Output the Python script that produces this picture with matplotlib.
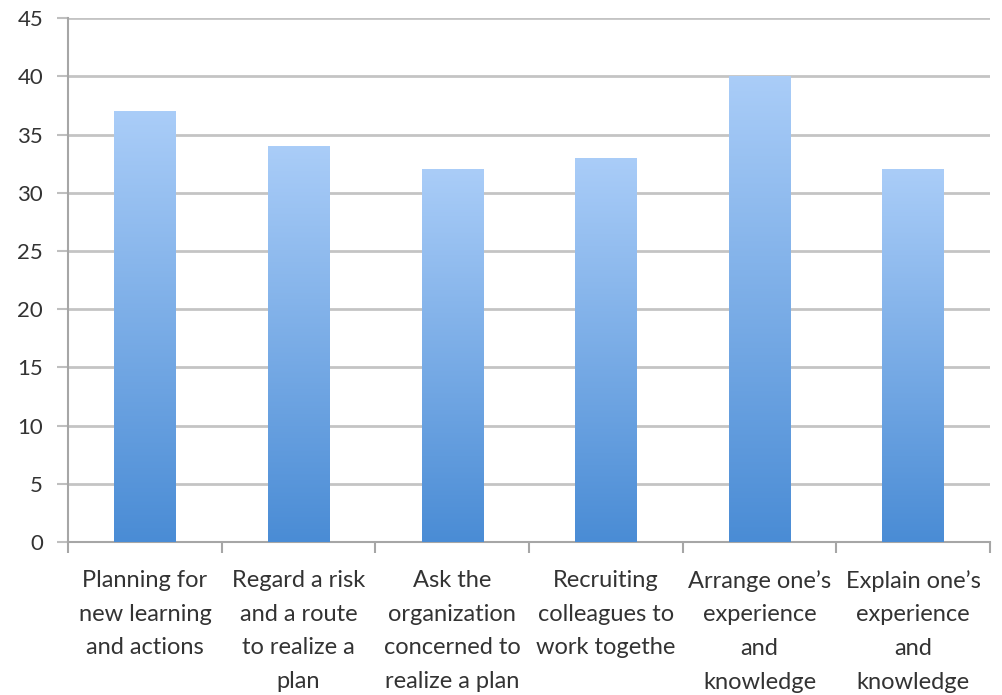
import numpy as np
import matplotlib.pyplot as plt
from matplotlib.colors import LinearSegmentedColormap

plt.rcParams['font.family'] = ['Lato', 'DejaVu Sans']

labels = [
    "Planning for\nnew learning\nand actions",
    "Regard a risk\nand a route\nto realize a\nplan",
    "Ask the\norganization\nconcerned to\nrealize a plan",
    "Recruiting\ncolleagues to\nwork togethe",
    "Arrange one\u2019s\nexperience\nand\nknowledge",
    "Explain one\u2019s\nexperience\nand\nknowledge",
]
values = [37, 34, 32, 33, 40, 32]

fig = plt.figure(figsize=(10.02, 6.95), dpi=100)
ax = fig.add_axes([0.068, 0.22, 0.92, 0.754])

grad = LinearSegmentedColormap.from_list('g', ['#4a8cd5', '#aacdf8'])
x = np.arange(len(values))
bars = ax.bar(x, values, width=0.4, color='none', zorder=3)
g = np.linspace(0, 1, 256).reshape(-1, 1)
for b in bars:
    x0, y0 = b.get_x(), b.get_y()
    im = ax.imshow(g, cmap=grad, origin='lower', aspect='auto',
                   extent=[x0, x0 + b.get_width(), y0, y0 + b.get_height()],
                   zorder=3)
    im.set_clip_path(b)

ax.set_xlim(-0.5, len(values) - 0.5)
ax.set_ylim(0, 45)
ax.set_yticks(range(0, 46, 5))
ax.set_xticks(np.arange(-0.5, len(values), 1.0))
ax.set_xticklabels([])
ax.set_xticks(x, minor=True)
ax.set_xticklabels(labels, minor=True, fontsize=17, color='#333333',
                   linespacing=1.75, va='top')
ax.tick_params(axis='x', which='minor', length=0, pad=20)
ax.tick_params(axis='x', which='major', length=8, width=1.5, color='#a6a6a6')
ax.tick_params(axis='y', length=8, width=1.5, color='#bfbfbf',
               labelsize=16, labelcolor='#333333', pad=10)
ax.grid(axis='y', color='#c4c4c4', linewidth=2, zorder=0)
for s in ['top', 'right']:
    ax.spines[s].set_visible(False)
for s in ['left', 'bottom']:
    ax.spines[s].set_color('#a6a6a6')
    ax.spines[s].set_linewidth(1.5)

fig.savefig('out.png', dpi=100)
